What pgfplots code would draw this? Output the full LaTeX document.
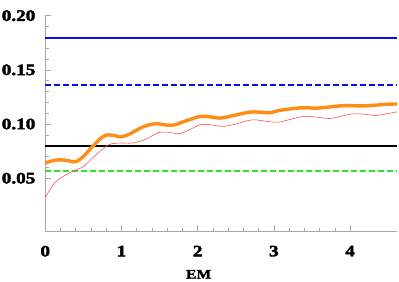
\documentclass[border=0pt]{standalone}
\usepackage{fontspec}
\setmainfont{Liberation Serif}[FakeStretch=1.2, FakeBold=2.5]
\usepackage{pgfplots}
\pgfplotsset{compat=1.18}
\definecolor{myblue}{RGB}{10,10,245}
\definecolor{mygreen}{RGB}{40,230,40}
\definecolor{myred}{RGB}{255,80,80}
\definecolor{myorange}{RGB}{255,140,20}
\begin{document}
\begin{tikzpicture}
\begin{axis}[
  name=ax,
  scale only axis,
  width=352.7pt, height=216pt,
  xmin=0, xmax=4.62, ymin=0.001, ymax=0.20,
  axis lines*=left,
  axis line style={gray!70, line width=0.6pt},
  xtick={0,1,2,3,4},
  ytick={0.05,0.10,0.15,0.20},
  minor x tick num=4, minor y tick num=4,
  tick align=inside,
  major tick length=6pt, minor tick length=3.5pt,
  tick style={gray!70, line width=0.5pt},
  yticklabel style={inner sep=0pt, anchor=east, xshift=-9.7pt},
  xticklabel style={inner sep=0pt, anchor=north, yshift=-14.3pt},
  yticklabels={0.05,0.10,0.15,0.20},
  xticklabels={0,1,2,3,4},
  ticklabel style={font=\fontsize{16}{18}\selectfont\bfseries},
  clip=false,
]
\addplot[myblue, line width=2pt, forget plot] coordinates {(0,0.1797) (4.62,0.1797)};
\addplot[myblue, line width=2pt, dash pattern=on 6pt off 3pt] coordinates {(0,0.136) (4.62,0.136)};
\addplot[black, line width=2pt] coordinates {(0,0.080) (4.62,0.080)};
\addplot[mygreen, line width=2pt, dash pattern=on 6pt off 3pt] coordinates {(0,0.0567) (4.62,0.0567)};
\addplot[myred, line width=0.6pt, smooth] coordinates {
(0,0.0320) (0.05,0.0380) (0.15,0.0476) (0.33,0.0553) (0.5,0.0608) (0.65,0.0706) (0.81,0.0801) (0.9,0.0820) (1.0,0.0825) (1.15,0.0825) (1.33,0.0862) (1.48,0.0920) (1.6,0.0925) (1.76,0.0911) (1.9,0.0950) (2.03,0.0993) (2.15,0.0995) (2.33,0.0978) (2.5,0.1000) (2.72,0.1039) (2.94,0.1021) (3.07,0.1018) (3.2,0.1040) (3.38,0.1070) (3.55,0.1065) (3.73,0.1051) (3.9,0.1075) (4.03,0.1094) (4.2,0.1090) (4.34,0.1079) (4.5,0.1097) (4.62,0.1113)};
\addplot[myorange, line width=3.4pt, smooth] coordinates {
(0,0.0640) (0.1,0.0662) (0.2,0.0670) (0.3,0.0662) (0.4,0.0652) (0.5,0.0700) (0.63,0.0800) (0.75,0.0880) (0.83,0.0900) (0.92,0.0892) (1.0,0.0882) (1.1,0.0905) (1.24,0.0960) (1.35,0.0990) (1.46,0.1003) (1.6,0.0990) (1.7,0.0993) (1.85,0.1030) (2.03,0.1070) (2.15,0.1068) (2.29,0.1055) (2.45,0.1075) (2.68,0.1110) (2.85,0.1108) (2.94,0.1103) (3.07,0.1125) (3.29,0.1146) (3.45,0.1150) (3.55,0.1146) (3.7,0.1155) (3.86,0.1167) (4.0,0.1170) (4.16,0.1167) (4.35,0.1175) (4.5,0.1183) (4.62,0.1185)};
\end{axis}
\node[anchor=base, inner sep=0pt, font=\fontsize{13}{14}\selectfont\bfseries] at ([xshift=153.7pt, yshift=-47.3pt]ax.south west) {EM};
\path ([xshift=-45.3pt, yshift=-50.3pt]ax.south west) rectangle ([xshift=353.7pt, yshift=231.7pt]ax.south west);
\end{tikzpicture}
\end{document}
